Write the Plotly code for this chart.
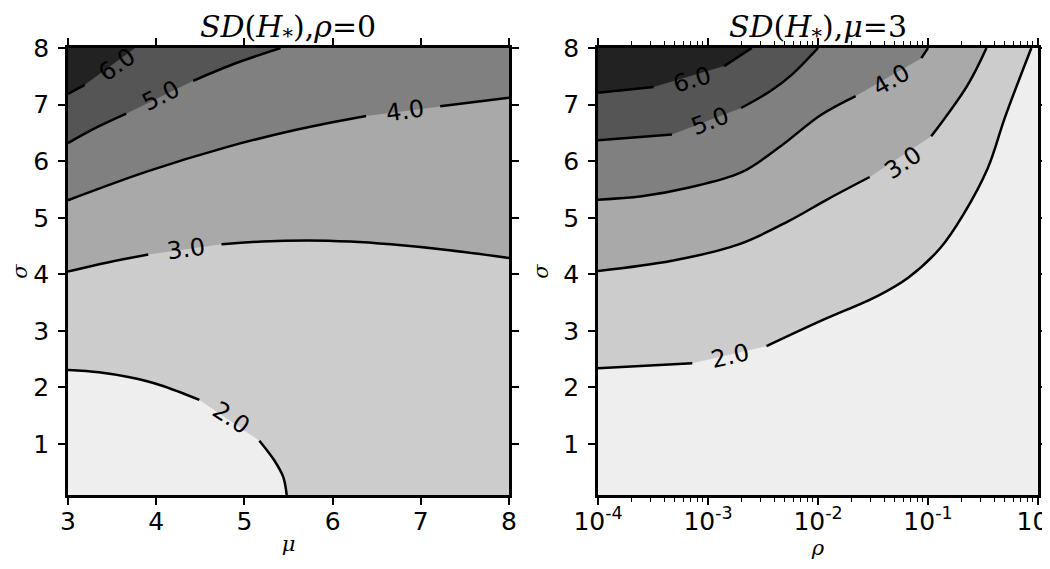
import numpy as np
import plotly.graph_objects as go
from plotly.subplots import make_subplots

# band colours, from lowest band (<2) to highest (>6)
band_colors = ["#eeeeee", "#cccccc", "#a9a9a9", "#808080", "#555555", "#222222"]
levels = [2.0, 3.0, 4.0, 5.0, 6.0]

mu_range = [3, 8]
sigma_range = [0.1, 8]
rho_range = [1e-4, 1.0]

# left panel: SD(H*) contours over mu (x) and sigma (y), rho = 0
# None marks the gap left for the inline label
left_2_mu = [3.0, 3.35, 3.7, 4.05, 4.49, None, 5.17, 5.34, 5.44, 5.48]
left_2_sigma = [2.31, 2.27, 2.18, 2.04, 1.78, None, 1.06, 0.71, 0.42, 0.1]
left_3_mu = [3.0, 3.45, 3.91, None, 4.74, 5.2, 5.72, 6.2, 6.66, 7.3, 8.0]
left_3_sigma = [4.05, 4.21, 4.35, None, 4.53, 4.58, 4.6, 4.58, 4.53, 4.43, 4.29]
left_4_mu = [3.0, 3.9, 4.78, 5.6, 6.38, None, 7.22, 8.0]
left_4_sigma = [5.31, 5.82, 6.24, 6.56, 6.8, None, 6.97, 7.12]
left_5_mu = [3.0, 3.33, 3.66, None, 4.42, 4.9, 5.41]
left_5_sigma = [6.32, 6.6, 6.84, None, 7.42, 7.73, 8.0]
left_6_mu = [3.0, 3.19, None, 3.76]
left_6_sigma = [7.19, 7.35, None, 8.0]

left_label_mu = [4.85, 4.34, 6.82, 4.05, 3.55]
left_label_sigma = [1.46, 4.44, 6.89, 7.15, 7.7]
left_label_angle = [33, -8, -8, -27, -35]

# right panel: SD(H*) contours over rho (x, log) and sigma (y), mu = 3
right_2_rho = [1e-4, 7.2e-4, None, 3.4e-3, 1.07e-2, 3.5e-2, 6.6e-2, 0.13, 0.21, 0.35, 0.5, 0.87]
right_2_sigma = [2.34, 2.43, None, 2.73, 3.18, 3.62, 3.94, 4.47, 5.06, 5.88, 6.77, 8.0]
right_3_rho = [1e-4, 4.7e-4, 1.9e-3, 5.4e-3, 1.23e-2, 2.95e-2, None, 0.107, 0.23, 0.34]
right_3_sigma = [4.06, 4.24, 4.53, 4.94, 5.33, 5.72, None, 6.44, 7.35, 8.0]
right_4_rho = [1e-4, 2.5e-4, 6.6e-4, 2.0e-3, 4.4e-3, 1.07e-2, 2.2e-2, None, 8.7e-2, 0.1]
right_4_sigma = [5.32, 5.38, 5.53, 5.8, 6.24, 6.82, 7.15, None, 7.82, 8.0]
right_5_rho = [1e-4, 4.7e-4, None, 2.0e-3, 3.7e-3, 5.8e-3, 1.0e-2]
right_5_sigma = [6.37, 6.47, None, 6.94, 7.24, 7.53, 8.0]
right_6_rho = [1e-4, 3.2e-4, None, 1.4e-3, 2.5e-3]
right_6_sigma = [7.21, 7.31, None, 7.68, 8.0]

right_label_rho = [1.6e-3, 5.9e-2, 4.6e-2, 1.05e-3, 7.1e-4]
right_label_sigma = [2.56, 5.97, 7.44, 6.71, 7.44]
right_label_angle = [-13, -34, -30, -21, -16]

rho_ticks = [1e-4, 1e-3, 1e-2, 1e-1, 1e0]
rho_ticktext = ["10<sup>-4</sup>", "10<sup>-3</sup>", "10<sup>-2</sup>", "10<sup>-1</sup>", "10<sup>0</sup>"]
sigma_ticks = [1, 2, 3, 4, 5, 6, 7, 8]
mu_ticks = [3, 4, 5, 6, 7, 8]

left_lines = [(left_2_mu, left_2_sigma), (left_3_mu, left_3_sigma), (left_4_mu, left_4_sigma),
              (left_5_mu, left_5_sigma), (left_6_mu, left_6_sigma)]
right_lines = [(right_2_rho, right_2_sigma), (right_3_rho, right_3_sigma), (right_4_rho, right_4_sigma),
               (right_5_rho, right_5_sigma), (right_6_rho, right_6_sigma)]

fig = make_subplots(rows=1, cols=2)


def no_gaps(xs, ys):
    pts = [(x, y) for x, y in zip(xs, ys) if x is not None]
    return [p[0] for p in pts], [p[1] for p in pts]


def closing_corners(xs, ys, xr, yr):
    """corners that close the region above a contour line, walking round the box."""
    x_end, y_end = xs[-1], ys[-1]
    if y_end <= yr[0] + 1e-9:  # ends on the bottom edge
        return [xr[1], xr[1], xr[0]], [yr[0], yr[1], yr[1]]
    if x_end >= xr[1] - 1e-9:  # ends on the right edge
        return [xr[1], xr[0]], [yr[1], yr[1]]
    return [xr[0]], [yr[1]]  # ends on the top edge


for col, lines, xr in [(1, left_lines, mu_range), (2, right_lines, rho_range)]:
    # filled bands, layered from the lowest level up
    for i, (xs, ys) in enumerate(lines):
        px, py = no_gaps(xs, ys)
        cx, cy = closing_corners(px, py, xr, sigma_range)
        fig.add_trace(go.Scatter(x=px + cx, y=py + cy, mode="lines", fill="toself",
                                 fillcolor=band_colors[i + 1], line=dict(width=0),
                                 hoverinfo="skip", showlegend=False), row=1, col=col)
    # contour lines
    for xs, ys in lines:
        fig.add_trace(go.Scatter(x=xs, y=ys, mode="lines",
                                 line=dict(color="black", width=2.5, shape="spline", smoothing=1.0),
                                 hoverinfo="skip", showlegend=False), row=1, col=col)

label_font = dict(family="DejaVu Sans", size=24, color="black")
annotations = []
for mu, s, a, lv in zip(left_label_mu, left_label_sigma, left_label_angle, levels):
    annotations.append(dict(x=mu, y=s, xref="x", yref="y", text=f"{lv:.1f}", textangle=a,
                            showarrow=False, font=label_font))
for r, s, a, lv in zip(right_label_rho, right_label_sigma, right_label_angle, levels):
    annotations.append(dict(x=np.log10(r), y=s, xref="x2", yref="y2", text=f"{lv:.1f}", textangle=a,
                            showarrow=False, font=label_font))

title_font = dict(family="DejaVu Serif", size=30, color="black")
annotations.append(dict(x=0.227, y=1.043, xref="paper", yref="paper", xanchor="center", yanchor="middle",
                        showarrow=False, text="<i>SD</i>(<i>H</i><sub>*</sub>),<i>ρ</i>=0", font=title_font))
annotations.append(dict(x=0.773, y=1.043, xref="paper", yref="paper", xanchor="center", yanchor="middle",
                        showarrow=False, text="<i>SD</i>(<i>H</i><sub>*</sub>),<i>μ</i>=3", font=title_font))

axis_style = dict(showline=True, linewidth=2.5, linecolor="black", mirror="ticks", ticks="outside",
                  ticklen=7, tickwidth=1.5, tickcolor="black", showgrid=False, zeroline=False,
                  automargin=False, ticklabeloverflow="allow",
                  tickfont=dict(family="DejaVu Sans", size=25, color="black"))
axis_title_font = dict(family="DejaVu Serif", size=21, color="black")

minor_rho = [k * 10.0 ** e for e in range(-4, 0) for k in range(2, 10)]

fig.update_layout(
    width=1050, height=569,
    margin=dict(l=60, r=20, t=40, b=82),
    paper_bgcolor="white",
    plot_bgcolor=band_colors[0],
    annotations=annotations,
    xaxis=dict(domain=[0.0, 0.4546], range=mu_range, tickvals=mu_ticks, ticklabelstandoff=-5,
               title=dict(text="<i>μ</i>", font=axis_title_font, standoff=2), **axis_style),
    yaxis=dict(domain=[0.0, 1.0], range=sigma_range, tickvals=sigma_ticks, ticklabelstandoff=4,
               title=dict(text="<i>σ</i>", font=axis_title_font, standoff=10), **axis_style),
    xaxis2=dict(domain=[0.5464, 1.0], type="log", range=[np.log10(rho_range[0]), np.log10(rho_range[1])],
                tickvals=rho_ticks, ticktext=rho_ticktext, ticklabelstandoff=-5,
                minor=dict(tickvals=minor_rho, ticks="outside", ticklen=4, tickwidth=1, tickcolor="black"),
                title=dict(text="<i>ρ</i>", font=axis_title_font, standoff=2), **axis_style),
    yaxis2=dict(domain=[0.0, 1.0], range=sigma_range, tickvals=sigma_ticks, ticklabelstandoff=4,
                title=dict(text="<i>σ</i>", font=axis_title_font, standoff=10), **axis_style),
)

fig.write_html("out.html")
